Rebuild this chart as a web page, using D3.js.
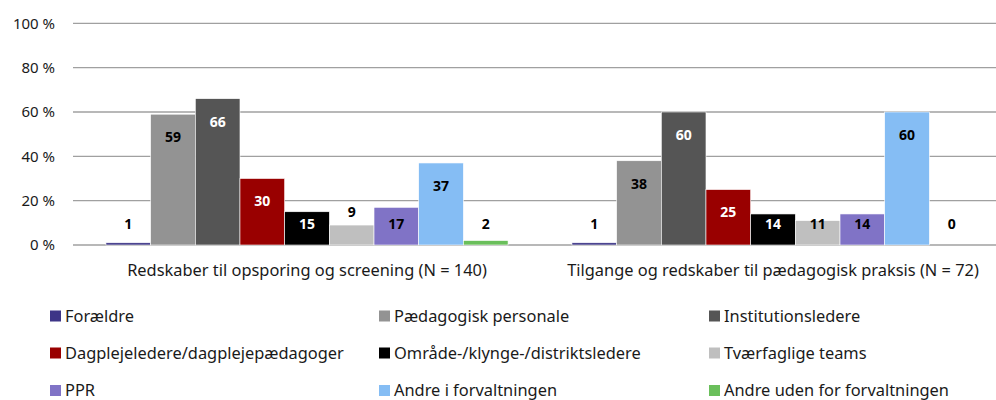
<!DOCTYPE html>
<html>
<head>
<meta charset="utf-8">
<script src="https://cdn.jsdelivr.net/npm/d3@7"></script>
<style>
  body { margin: 0; background: #fff; }
  .lbl { font-family: "Noto Sans", "Open Sans", sans-serif; fill: #1a1a1a; }
  .val { font-family: "Noto Sans", sans-serif; font-weight: bold; font-size: 14px; }
</style>
</head>
<body>
<div id="chart"></div>
<script>
const categories = ["Redskaber til opsporing og screening (N = 140)", "Tilgange og redskaber til pædagogisk praksis (N = 72)"];
const series = ["Forældre", "Pædagogisk personale", "Institutionsledere",
                "Dagplejeledere/dagplejepædagoger", "Område-/klynge-/distriktsledere", "Tværfaglige teams",
                "PPR", "Andre i forvaltningen", "Andre uden for forvaltningen"];
const colors = ["#3d3587", "#939393", "#555555", "#990000", "#000000", "#bfbfbf", "#8073c6", "#85bdf4", "#6abf5b"];
const screening = [1, 59, 66, 30, 15, 9, 17, 37, 2];
const praksis = [1, 38, 60, 25, 14, 11, 14, 60, 0];
const yTicks = [0, 20, 40, 60, 80, 100];
const darkSeries = ["Institutionsledere", "Dagplejeledere/dagplejepædagoger", "Område-/klynge-/distriktsledere"];

const W = 996, H = 400;
const svg = d3.select("#chart").append("svg").attr("width", W).attr("height", H);

const x0 = d3.scaleBand().domain(categories).range([74, 1006]);
const x1 = d3.scaleBand().domain(series).range([0, x0.bandwidth()]).paddingOuter(0.715);
const y = d3.scaleLinear().domain([0, 100]).range([245, 23.3]);

// grid
svg.selectAll(".grid").data(yTicks).enter().append("line")
    .attr("x1", 73).attr("x2", W)
    .attr("y1", d => y(d)).attr("y2", d => y(d))
    .attr("stroke", "#a0a0a0").attr("stroke-width", 1.3);

svg.selectAll(".ytick").data(yTicks).enter().append("text")
    .attr("class", "lbl")
    .attr("x", 55).attr("y", d => y(d)).attr("dy", "0.35em")
    .attr("text-anchor", "end").style("font-size", "15px")
    .text(d => d + " %");

const data = [screening, praksis];
const groups = svg.selectAll(".grp").data(categories).enter().append("g")
    .attr("transform", d => "translate(" + x0(d) + ",0)");

groups.each(function(cat, ci) {
    const g = d3.select(this);
    const rows = series.map((s, i) => ({s: s, v: data[ci][i], c: colors[i]}));
    g.selectAll("rect").data(rows).enter().append("rect")
        .attr("x", d => x1(d.s))
        .attr("y", d => y(d.v))
        .attr("width", x1.bandwidth())
        .attr("height", d => y(0) - y(d.v))
        .attr("fill", d => d.c)
        .attr("stroke", "#fff").attr("stroke-width", 0.6);
    // labels sit inside the top of the bar, short bars get them lifted
    g.selectAll("text.val").data(rows).enter().append("text")
        .attr("class", "val")
        .attr("x", d => x1(d.s) + x1.bandwidth() / 2)
        .attr("y", d => {
            const h = y(0) - y(d.v);
            if (h < 22) return Math.min(y(d.v) - 13, 224);
            return Math.min(y(d.v) + 23, 224);
        })
        .attr("dy", "0.35em")
        .attr("text-anchor", "middle")
        .attr("fill", d => darkSeries.includes(d.s) ? "#fff" : "#000")
        .text(d => d.v);
});

svg.selectAll(".cat").data(categories).enter().append("text")
    .attr("class", "lbl")
    .attr("x", d => x0(d) + x0.bandwidth() / 2).attr("y", 270).attr("dy", "0.35em")
    .attr("text-anchor", "middle").style("font-size", "16.4px")
    .text(d => d);

// legend, 3 columns
const legCols = [50, 379, 709], legRows = [316, 353, 390.5];
const leg = svg.selectAll(".leg").data(series).enter().append("g")
    .attr("transform", (d, i) => "translate(" + legCols[i % 3] + "," + legRows[Math.floor(i / 3)] + ")");
leg.append("rect").attr("x", 0).attr("y", -5.5).attr("width", 11).attr("height", 11)
    .attr("fill", (d, i) => colors[i]);
leg.append("text").attr("class", "lbl").attr("x", 15).attr("dy", "0.35em")
    .style("font-size", "16.4px").text(d => d);
</script>
</body>
</html>
